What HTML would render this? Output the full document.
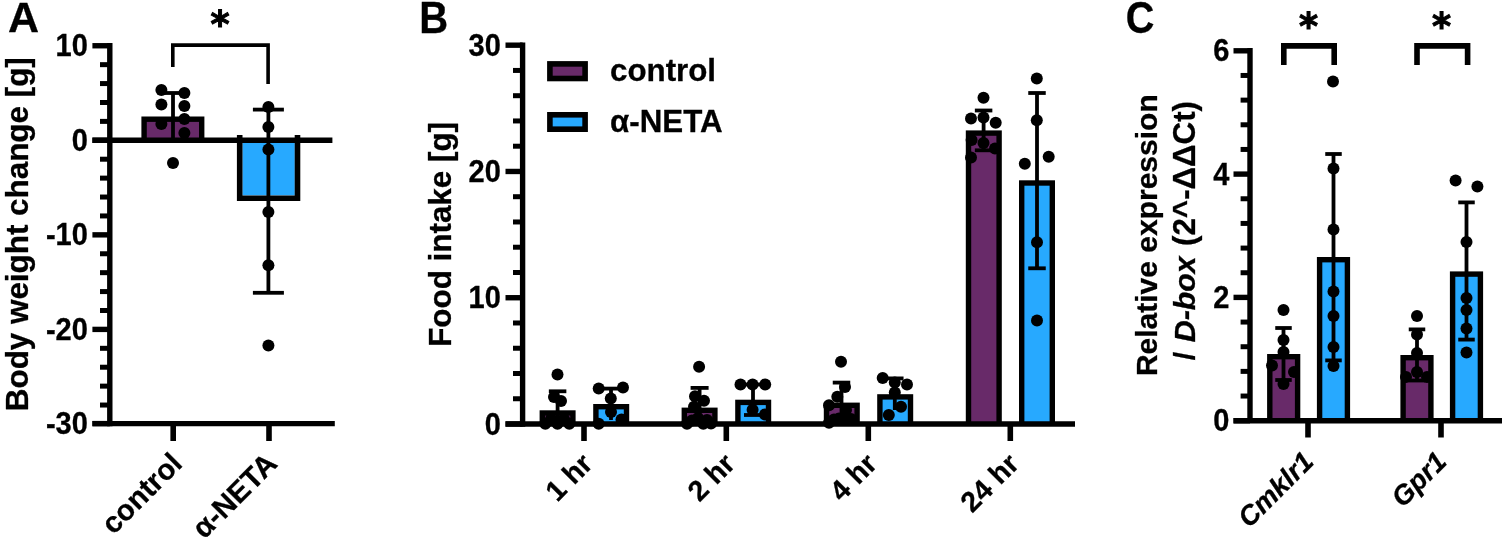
<!DOCTYPE html>
<html lang="en">
<head>
<meta charset="utf-8">
<title>Figure: body weight change, food intake and relative expression</title>
<style>
html,body{margin:0;padding:0;background:#fff;}
body{width:1505px;height:541px;overflow:hidden;}
svg{display:block;}
svg text{font-family:"Liberation Sans","DejaVu Sans",sans-serif;font-weight:700;fill:#000;stroke:#000;stroke-width:0.3px;}
</style>
</head>
<body>
<svg width="1505" height="541" viewBox="0 0 1505 541">
<rect x="0" y="0" width="1505" height="541" fill="#fff"/>
<rect x="141.40" y="116.50" width="63.00" height="23.80" fill="#000"/>
<rect x="146.80" y="121.90" width="52.20" height="18.40" fill="#682A69"/>
<rect x="242.40" y="140.30" width="52.40" height="55.10" fill="#27A9FF"/>
<path d="M239.7 135 V198.3 H297.5 V135" fill="none" stroke="#000" stroke-width="5.6"/>
<line x1="109.80" y1="43.05" x2="109.80" y2="426.30" stroke="#000" stroke-width="5.4"/>
<line x1="92.40" y1="423.60" x2="334.80" y2="423.60" stroke="#000" stroke-width="5.4"/>
<line x1="92.40" y1="140.30" x2="332.40" y2="140.30" stroke="#000" stroke-width="5.4"/>
<line x1="92.40" y1="423.60" x2="109.80" y2="423.60" stroke="#000" stroke-width="5.4"/>
<line x1="100.00" y1="405.04" x2="109.80" y2="405.04" stroke="#000" stroke-width="5.0"/>
<line x1="100.00" y1="386.13" x2="109.80" y2="386.13" stroke="#000" stroke-width="5.0"/>
<line x1="100.00" y1="367.22" x2="109.80" y2="367.22" stroke="#000" stroke-width="5.0"/>
<line x1="100.00" y1="348.31" x2="109.80" y2="348.31" stroke="#000" stroke-width="5.0"/>
<line x1="92.40" y1="329.40" x2="109.80" y2="329.40" stroke="#000" stroke-width="5.4"/>
<line x1="100.00" y1="310.49" x2="109.80" y2="310.49" stroke="#000" stroke-width="5.0"/>
<line x1="100.00" y1="291.58" x2="109.80" y2="291.58" stroke="#000" stroke-width="5.0"/>
<line x1="100.00" y1="272.67" x2="109.80" y2="272.67" stroke="#000" stroke-width="5.0"/>
<line x1="100.00" y1="253.76" x2="109.80" y2="253.76" stroke="#000" stroke-width="5.0"/>
<line x1="92.40" y1="234.85" x2="109.80" y2="234.85" stroke="#000" stroke-width="5.4"/>
<line x1="100.00" y1="215.94" x2="109.80" y2="215.94" stroke="#000" stroke-width="5.0"/>
<line x1="100.00" y1="197.03" x2="109.80" y2="197.03" stroke="#000" stroke-width="5.0"/>
<line x1="100.00" y1="178.12" x2="109.80" y2="178.12" stroke="#000" stroke-width="5.0"/>
<line x1="100.00" y1="159.21" x2="109.80" y2="159.21" stroke="#000" stroke-width="5.0"/>
<line x1="92.40" y1="140.30" x2="109.80" y2="140.30" stroke="#000" stroke-width="5.4"/>
<line x1="100.00" y1="121.39" x2="109.80" y2="121.39" stroke="#000" stroke-width="5.0"/>
<line x1="100.00" y1="102.48" x2="109.80" y2="102.48" stroke="#000" stroke-width="5.0"/>
<line x1="100.00" y1="83.57" x2="109.80" y2="83.57" stroke="#000" stroke-width="5.0"/>
<line x1="100.00" y1="64.66" x2="109.80" y2="64.66" stroke="#000" stroke-width="5.0"/>
<line x1="92.40" y1="45.75" x2="109.80" y2="45.75" stroke="#000" stroke-width="5.4"/>
<text font-size="29.0" text-anchor="end" transform="translate(87.80 56.25) scale(1.0 1.05)">10</text>
<text font-size="29.0" text-anchor="end" transform="translate(87.80 150.80) scale(1.0 1.05)">0</text>
<text font-size="29.0" text-anchor="end" transform="translate(87.80 245.35) scale(1.0 1.05)">-10</text>
<text font-size="29.0" text-anchor="end" transform="translate(87.80 339.90) scale(1.0 1.05)">-20</text>
<text font-size="29.0" text-anchor="end" transform="translate(87.80 434.10) scale(1.0 1.05)">-30</text>
<line x1="173.20" y1="423.60" x2="173.20" y2="441.00" stroke="#000" stroke-width="5.6"/>
<line x1="269.00" y1="423.60" x2="269.00" y2="441.00" stroke="#000" stroke-width="5.6"/>
<line x1="173.00" y1="93.00" x2="173.00" y2="140.00" stroke="#000" stroke-width="3.8"/>
<line x1="161.00" y1="93.00" x2="185.00" y2="93.00" stroke="#000" stroke-width="3.8"/>
<line x1="268.40" y1="109.60" x2="268.40" y2="292.80" stroke="#000" stroke-width="3.8"/>
<line x1="252.90" y1="109.60" x2="283.90" y2="109.60" stroke="#000" stroke-width="3.8"/>
<line x1="252.90" y1="292.80" x2="283.90" y2="292.80" stroke="#000" stroke-width="3.8"/>
<circle cx="161.40" cy="90.00" r="6.0" fill="#000"/>
<circle cx="184.40" cy="93.00" r="6.0" fill="#000"/>
<circle cx="161.40" cy="104.60" r="6.0" fill="#000"/>
<circle cx="184.40" cy="106.00" r="6.0" fill="#000"/>
<circle cx="184.40" cy="119.00" r="6.0" fill="#000"/>
<circle cx="161.40" cy="124.00" r="6.0" fill="#000"/>
<circle cx="184.40" cy="133.00" r="6.0" fill="#000"/>
<circle cx="173.00" cy="163.00" r="6.0" fill="#000"/>
<circle cx="268.40" cy="107.00" r="6.0" fill="#000"/>
<circle cx="268.40" cy="127.00" r="6.0" fill="#000"/>
<circle cx="268.40" cy="149.60" r="6.0" fill="#000"/>
<circle cx="268.40" cy="212.00" r="6.0" fill="#000"/>
<circle cx="268.40" cy="265.20" r="6.0" fill="#000"/>
<circle cx="268.40" cy="345.60" r="6.0" fill="#000"/>
<path d="M172.8 67 V45.1 H268.1 V84" fill="none" stroke="#000" stroke-width="3.6"/>
<text font-size="36.5" text-anchor="middle" transform="translate(220.00 36.95)" style="font-family:'DejaVu Sans','Liberation Sans',sans-serif;stroke:#000;stroke-width:1px">*</text>
<text font-size="43" text-anchor="start" transform="translate(8.00 32.30)">A</text>
<text font-size="31.4" text-anchor="middle" transform="translate(28.00 234.20) rotate(-90)">Body weight change [g]</text>
<text font-size="29.3" text-anchor="end" transform="translate(183.80 465.20) rotate(-45)">control</text>
<text font-size="29.3" text-anchor="end" transform="translate(278.80 465.30) rotate(-45)">α-NETA</text>
<rect x="539.60" y="410.30" width="36.00" height="13.70" fill="#000"/>
<rect x="545.00" y="415.70" width="25.20" height="8.30" fill="#682A69"/>
<rect x="593.20" y="404.00" width="36.00" height="20.00" fill="#000"/>
<rect x="598.60" y="409.40" width="25.20" height="14.60" fill="#27A9FF"/>
<rect x="681.60" y="407.60" width="36.00" height="16.40" fill="#000"/>
<rect x="687.00" y="413.00" width="25.20" height="11.00" fill="#682A69"/>
<rect x="735.20" y="399.70" width="36.00" height="24.30" fill="#000"/>
<rect x="740.60" y="405.10" width="25.20" height="18.90" fill="#27A9FF"/>
<rect x="823.80" y="402.60" width="36.00" height="21.40" fill="#000"/>
<rect x="829.20" y="408.00" width="25.20" height="16.00" fill="#682A69"/>
<rect x="877.20" y="394.20" width="36.00" height="29.80" fill="#000"/>
<rect x="882.60" y="399.60" width="25.20" height="24.40" fill="#27A9FF"/>
<rect x="965.80" y="130.40" width="36.00" height="293.60" fill="#000"/>
<rect x="971.20" y="135.80" width="25.20" height="288.20" fill="#682A69"/>
<rect x="1019.00" y="180.30" width="36.00" height="243.70" fill="#000"/>
<rect x="1024.40" y="185.70" width="25.20" height="238.30" fill="#27A9FF"/>
<line x1="522.60" y1="42.49" x2="522.60" y2="426.70" stroke="#000" stroke-width="5.4"/>
<line x1="505.50" y1="424.00" x2="1075.00" y2="424.00" stroke="#000" stroke-width="5.6"/>
<line x1="505.50" y1="424.00" x2="522.60" y2="424.00" stroke="#000" stroke-width="5.4"/>
<line x1="513.00" y1="398.75" x2="522.60" y2="398.75" stroke="#000" stroke-width="5.0"/>
<line x1="513.00" y1="373.49" x2="522.60" y2="373.49" stroke="#000" stroke-width="5.0"/>
<line x1="513.00" y1="348.24" x2="522.60" y2="348.24" stroke="#000" stroke-width="5.0"/>
<line x1="513.00" y1="322.98" x2="522.60" y2="322.98" stroke="#000" stroke-width="5.0"/>
<line x1="505.50" y1="297.73" x2="522.60" y2="297.73" stroke="#000" stroke-width="5.4"/>
<line x1="513.00" y1="272.48" x2="522.60" y2="272.48" stroke="#000" stroke-width="5.0"/>
<line x1="513.00" y1="247.22" x2="522.60" y2="247.22" stroke="#000" stroke-width="5.0"/>
<line x1="513.00" y1="221.97" x2="522.60" y2="221.97" stroke="#000" stroke-width="5.0"/>
<line x1="513.00" y1="196.71" x2="522.60" y2="196.71" stroke="#000" stroke-width="5.0"/>
<line x1="505.50" y1="171.46" x2="522.60" y2="171.46" stroke="#000" stroke-width="5.4"/>
<line x1="513.00" y1="146.21" x2="522.60" y2="146.21" stroke="#000" stroke-width="5.0"/>
<line x1="513.00" y1="120.95" x2="522.60" y2="120.95" stroke="#000" stroke-width="5.0"/>
<line x1="513.00" y1="95.70" x2="522.60" y2="95.70" stroke="#000" stroke-width="5.0"/>
<line x1="513.00" y1="70.44" x2="522.60" y2="70.44" stroke="#000" stroke-width="5.0"/>
<line x1="505.50" y1="45.19" x2="522.60" y2="45.19" stroke="#000" stroke-width="5.4"/>
<text font-size="29.0" text-anchor="end" transform="translate(500.80 434.50) scale(1.0 1.05)">0</text>
<text font-size="29.0" text-anchor="end" transform="translate(500.80 308.23) scale(1.0 1.05)">10</text>
<text font-size="29.0" text-anchor="end" transform="translate(500.80 181.96) scale(1.0 1.05)">20</text>
<text font-size="29.0" text-anchor="end" transform="translate(500.80 55.69) scale(1.0 1.05)">30</text>
<line x1="584.00" y1="424.00" x2="584.00" y2="441.00" stroke="#000" stroke-width="5.6"/>
<line x1="726.30" y1="424.00" x2="726.30" y2="441.00" stroke="#000" stroke-width="5.6"/>
<line x1="868.30" y1="424.00" x2="868.30" y2="441.00" stroke="#000" stroke-width="5.6"/>
<line x1="1010.30" y1="424.00" x2="1010.30" y2="441.00" stroke="#000" stroke-width="5.6"/>
<line x1="557.60" y1="391.30" x2="557.60" y2="424.00" stroke="#000" stroke-width="3.8"/>
<line x1="548.85" y1="391.30" x2="566.35" y2="391.30" stroke="#000" stroke-width="3.8"/>
<line x1="611.00" y1="388.60" x2="611.00" y2="420.00" stroke="#000" stroke-width="3.8"/>
<line x1="599.00" y1="388.60" x2="623.00" y2="388.60" stroke="#000" stroke-width="3.8"/>
<line x1="699.60" y1="387.90" x2="699.60" y2="424.00" stroke="#000" stroke-width="3.8"/>
<line x1="690.60" y1="387.90" x2="708.60" y2="387.90" stroke="#000" stroke-width="3.8"/>
<line x1="753.00" y1="384.50" x2="753.00" y2="415.00" stroke="#000" stroke-width="3.8"/>
<line x1="744.00" y1="384.50" x2="762.00" y2="384.50" stroke="#000" stroke-width="3.8"/>
<line x1="744.00" y1="415.00" x2="762.00" y2="415.00" stroke="#000" stroke-width="3.8"/>
<line x1="841.50" y1="382.60" x2="841.50" y2="424.00" stroke="#000" stroke-width="3.8"/>
<line x1="832.75" y1="382.60" x2="850.25" y2="382.60" stroke="#000" stroke-width="3.8"/>
<line x1="894.80" y1="378.40" x2="894.80" y2="410.00" stroke="#000" stroke-width="3.8"/>
<line x1="886.05" y1="378.40" x2="903.55" y2="378.40" stroke="#000" stroke-width="3.8"/>
<line x1="983.60" y1="110.50" x2="983.60" y2="150.30" stroke="#000" stroke-width="3.8"/>
<line x1="974.85" y1="110.50" x2="992.35" y2="110.50" stroke="#000" stroke-width="3.8"/>
<line x1="974.85" y1="150.30" x2="992.35" y2="150.30" stroke="#000" stroke-width="3.8"/>
<line x1="1037.00" y1="93.00" x2="1037.00" y2="268.30" stroke="#000" stroke-width="3.8"/>
<line x1="1028.25" y1="93.00" x2="1045.75" y2="93.00" stroke="#000" stroke-width="3.8"/>
<line x1="1028.25" y1="268.30" x2="1045.75" y2="268.30" stroke="#000" stroke-width="3.8"/>
<circle cx="557.50" cy="374.40" r="6.0" fill="#000"/>
<circle cx="554.00" cy="397.00" r="6.0" fill="#000"/>
<circle cx="561.00" cy="401.00" r="6.0" fill="#000"/>
<circle cx="545.30" cy="423.70" r="6.0" fill="#000"/>
<circle cx="557.50" cy="423.70" r="6.0" fill="#000"/>
<circle cx="569.30" cy="423.70" r="6.0" fill="#000"/>
<circle cx="551.00" cy="419.00" r="6.0" fill="#000"/>
<circle cx="564.00" cy="419.00" r="6.0" fill="#000"/>
<circle cx="598.70" cy="388.60" r="6.0" fill="#000"/>
<circle cx="623.00" cy="387.50" r="6.0" fill="#000"/>
<circle cx="610.80" cy="398.60" r="6.0" fill="#000"/>
<circle cx="611.00" cy="412.00" r="6.0" fill="#000"/>
<circle cx="621.50" cy="419.50" r="6.0" fill="#000"/>
<circle cx="598.70" cy="423.70" r="6.0" fill="#000"/>
<circle cx="699.10" cy="366.70" r="6.0" fill="#000"/>
<circle cx="695.00" cy="396.20" r="6.0" fill="#000"/>
<circle cx="704.00" cy="400.80" r="6.0" fill="#000"/>
<circle cx="694.00" cy="406.80" r="6.0" fill="#000"/>
<circle cx="687.00" cy="423.70" r="6.0" fill="#000"/>
<circle cx="703.30" cy="423.70" r="6.0" fill="#000"/>
<circle cx="711.00" cy="423.50" r="6.0" fill="#000"/>
<circle cx="698.00" cy="418.00" r="6.0" fill="#000"/>
<circle cx="692.00" cy="420.50" r="6.0" fill="#000"/>
<circle cx="707.00" cy="420.00" r="6.0" fill="#000"/>
<circle cx="740.50" cy="384.50" r="6.0" fill="#000"/>
<circle cx="752.60" cy="384.50" r="6.0" fill="#000"/>
<circle cx="765.20" cy="384.50" r="6.0" fill="#000"/>
<circle cx="752.60" cy="409.80" r="6.0" fill="#000"/>
<circle cx="765.00" cy="414.50" r="6.0" fill="#000"/>
<circle cx="841.00" cy="361.80" r="6.0" fill="#000"/>
<circle cx="845.00" cy="387.00" r="6.0" fill="#000"/>
<circle cx="837.30" cy="396.70" r="6.0" fill="#000"/>
<circle cx="829.00" cy="405.30" r="6.0" fill="#000"/>
<circle cx="829.00" cy="422.70" r="6.0" fill="#000"/>
<circle cx="839.00" cy="418.50" r="6.0" fill="#000"/>
<circle cx="851.00" cy="419.00" r="6.0" fill="#000"/>
<circle cx="846.00" cy="410.00" r="6.0" fill="#000"/>
<circle cx="834.00" cy="419.50" r="6.0" fill="#000"/>
<circle cx="845.00" cy="419.50" r="6.0" fill="#000"/>
<circle cx="882.70" cy="378.00" r="6.0" fill="#000"/>
<circle cx="907.00" cy="384.50" r="6.0" fill="#000"/>
<circle cx="894.80" cy="382.60" r="6.0" fill="#000"/>
<circle cx="894.80" cy="392.40" r="6.0" fill="#000"/>
<circle cx="901.00" cy="406.80" r="6.0" fill="#000"/>
<circle cx="888.80" cy="415.00" r="6.0" fill="#000"/>
<circle cx="983.50" cy="97.70" r="6.0" fill="#000"/>
<circle cx="971.00" cy="118.50" r="6.0" fill="#000"/>
<circle cx="983.50" cy="117.40" r="6.0" fill="#000"/>
<circle cx="995.70" cy="122.70" r="6.0" fill="#000"/>
<circle cx="971.60" cy="140.00" r="6.0" fill="#000"/>
<circle cx="983.50" cy="143.00" r="6.0" fill="#000"/>
<circle cx="995.00" cy="148.50" r="6.0" fill="#000"/>
<circle cx="971.00" cy="157.60" r="6.0" fill="#000"/>
<circle cx="1036.80" cy="78.60" r="6.0" fill="#000"/>
<circle cx="1036.80" cy="120.20" r="6.0" fill="#000"/>
<circle cx="1048.70" cy="156.80" r="6.0" fill="#000"/>
<circle cx="1024.80" cy="163.70" r="6.0" fill="#000"/>
<circle cx="1037.00" cy="242.20" r="6.0" fill="#000"/>
<circle cx="1037.00" cy="320.50" r="6.0" fill="#000"/>
<rect x="547.10" y="61.10" width="40.80" height="20.20" fill="#000"/>
<rect x="552.70" y="66.70" width="29.60" height="9.00" fill="#682A69"/>
<rect x="547.10" y="112.00" width="40.80" height="20.00" fill="#000"/>
<rect x="552.70" y="117.60" width="29.60" height="8.80" fill="#27A9FF"/>
<text font-size="31.3" text-anchor="start" transform="translate(610.00 81.10)">control</text>
<text font-size="31.3" text-anchor="start" transform="translate(610.00 131.90)">α-NETA</text>
<text font-size="43" text-anchor="start" transform="translate(419.30 32.50) scale(0.93 1.02)">B</text>
<text font-size="31.4" text-anchor="middle" transform="translate(451.00 234.40) rotate(-90)">Food intake [g]</text>
<text font-size="28.5" text-anchor="end" transform="translate(594.20 465.70) rotate(-45)">1 hr</text>
<text font-size="28.5" text-anchor="end" transform="translate(736.50 465.70) rotate(-45)">2 hr</text>
<text font-size="28.5" text-anchor="end" transform="translate(878.50 465.70) rotate(-45)">4 hr</text>
<text font-size="28.5" text-anchor="end" transform="translate(1020.50 465.70) rotate(-45)">24 hr</text>
<rect x="1267.10" y="354.00" width="33.20" height="66.70" fill="#000"/>
<rect x="1272.50" y="359.40" width="22.40" height="61.30" fill="#682A69"/>
<rect x="1316.90" y="257.00" width="33.20" height="163.70" fill="#000"/>
<rect x="1322.30" y="262.40" width="22.40" height="158.30" fill="#27A9FF"/>
<rect x="1400.40" y="355.00" width="33.20" height="65.70" fill="#000"/>
<rect x="1405.80" y="360.40" width="22.40" height="60.30" fill="#682A69"/>
<rect x="1449.90" y="271.40" width="33.20" height="149.30" fill="#000"/>
<rect x="1455.30" y="276.80" width="22.40" height="143.90" fill="#27A9FF"/>
<line x1="1250.00" y1="48.10" x2="1250.00" y2="422.70" stroke="#000" stroke-width="5.4"/>
<line x1="1233.50" y1="420.70" x2="1502.00" y2="420.70" stroke="#000" stroke-width="5.6"/>
<line x1="1233.50" y1="420.70" x2="1250.00" y2="420.70" stroke="#000" stroke-width="5.4"/>
<line x1="1240.60" y1="396.04" x2="1250.00" y2="396.04" stroke="#000" stroke-width="5.0"/>
<line x1="1240.60" y1="371.38" x2="1250.00" y2="371.38" stroke="#000" stroke-width="5.0"/>
<line x1="1240.60" y1="346.72" x2="1250.00" y2="346.72" stroke="#000" stroke-width="5.0"/>
<line x1="1240.60" y1="322.06" x2="1250.00" y2="322.06" stroke="#000" stroke-width="5.0"/>
<line x1="1233.50" y1="297.40" x2="1250.00" y2="297.40" stroke="#000" stroke-width="5.4"/>
<line x1="1240.60" y1="272.74" x2="1250.00" y2="272.74" stroke="#000" stroke-width="5.0"/>
<line x1="1240.60" y1="248.08" x2="1250.00" y2="248.08" stroke="#000" stroke-width="5.0"/>
<line x1="1240.60" y1="223.42" x2="1250.00" y2="223.42" stroke="#000" stroke-width="5.0"/>
<line x1="1240.60" y1="198.76" x2="1250.00" y2="198.76" stroke="#000" stroke-width="5.0"/>
<line x1="1233.50" y1="174.10" x2="1250.00" y2="174.10" stroke="#000" stroke-width="5.4"/>
<line x1="1240.60" y1="149.44" x2="1250.00" y2="149.44" stroke="#000" stroke-width="5.0"/>
<line x1="1240.60" y1="124.78" x2="1250.00" y2="124.78" stroke="#000" stroke-width="5.0"/>
<line x1="1240.60" y1="100.12" x2="1250.00" y2="100.12" stroke="#000" stroke-width="5.0"/>
<line x1="1240.60" y1="75.46" x2="1250.00" y2="75.46" stroke="#000" stroke-width="5.0"/>
<line x1="1233.50" y1="50.80" x2="1250.00" y2="50.80" stroke="#000" stroke-width="5.4"/>
<text font-size="29.0" text-anchor="end" transform="translate(1229.40 431.20) scale(1.0 1.05)">0</text>
<text font-size="29.0" text-anchor="end" transform="translate(1229.40 307.90) scale(1.0 1.05)">2</text>
<text font-size="29.0" text-anchor="end" transform="translate(1229.40 184.60) scale(1.0 1.05)">4</text>
<text font-size="29.0" text-anchor="end" transform="translate(1229.40 61.30) scale(1.0 1.05)">6</text>
<line x1="1308.00" y1="420.70" x2="1308.00" y2="437.50" stroke="#000" stroke-width="5.6"/>
<line x1="1441.00" y1="420.70" x2="1441.00" y2="437.50" stroke="#000" stroke-width="5.6"/>
<line x1="1283.50" y1="328.00" x2="1283.50" y2="380.00" stroke="#000" stroke-width="3.8"/>
<line x1="1275.25" y1="328.00" x2="1291.75" y2="328.00" stroke="#000" stroke-width="3.8"/>
<line x1="1275.25" y1="380.00" x2="1291.75" y2="380.00" stroke="#000" stroke-width="3.8"/>
<line x1="1333.50" y1="154.00" x2="1333.50" y2="360.40" stroke="#000" stroke-width="3.8"/>
<line x1="1325.25" y1="154.00" x2="1341.75" y2="154.00" stroke="#000" stroke-width="3.8"/>
<line x1="1325.25" y1="360.40" x2="1341.75" y2="360.40" stroke="#000" stroke-width="3.8"/>
<line x1="1417.00" y1="329.40" x2="1417.00" y2="380.50" stroke="#000" stroke-width="3.8"/>
<line x1="1408.75" y1="329.40" x2="1425.25" y2="329.40" stroke="#000" stroke-width="3.8"/>
<line x1="1408.75" y1="380.50" x2="1425.25" y2="380.50" stroke="#000" stroke-width="3.8"/>
<line x1="1466.50" y1="202.40" x2="1466.50" y2="339.60" stroke="#000" stroke-width="3.8"/>
<line x1="1458.25" y1="202.40" x2="1474.75" y2="202.40" stroke="#000" stroke-width="3.8"/>
<line x1="1458.25" y1="339.60" x2="1474.75" y2="339.60" stroke="#000" stroke-width="3.8"/>
<circle cx="1283.50" cy="310.00" r="6.0" fill="#000"/>
<circle cx="1283.50" cy="340.00" r="6.0" fill="#000"/>
<circle cx="1283.50" cy="352.00" r="6.0" fill="#000"/>
<circle cx="1272.00" cy="365.60" r="6.0" fill="#000"/>
<circle cx="1294.00" cy="372.00" r="6.0" fill="#000"/>
<circle cx="1283.50" cy="384.00" r="6.0" fill="#000"/>
<circle cx="1333.00" cy="81.60" r="6.0" fill="#000"/>
<circle cx="1333.50" cy="168.40" r="6.0" fill="#000"/>
<circle cx="1333.50" cy="229.40" r="6.0" fill="#000"/>
<circle cx="1333.50" cy="291.60" r="6.0" fill="#000"/>
<circle cx="1333.50" cy="316.00" r="6.0" fill="#000"/>
<circle cx="1333.50" cy="347.00" r="6.0" fill="#000"/>
<circle cx="1333.50" cy="366.00" r="6.0" fill="#000"/>
<circle cx="1417.00" cy="316.00" r="6.0" fill="#000"/>
<circle cx="1417.00" cy="334.40" r="6.0" fill="#000"/>
<circle cx="1417.00" cy="353.00" r="6.0" fill="#000"/>
<circle cx="1417.00" cy="372.00" r="6.0" fill="#000"/>
<circle cx="1406.00" cy="377.00" r="6.0" fill="#000"/>
<circle cx="1427.00" cy="377.00" r="6.0" fill="#000"/>
<circle cx="1455.60" cy="180.40" r="6.0" fill="#000"/>
<circle cx="1477.40" cy="186.40" r="6.0" fill="#000"/>
<circle cx="1466.50" cy="242.00" r="6.0" fill="#000"/>
<circle cx="1466.50" cy="298.00" r="6.0" fill="#000"/>
<circle cx="1466.50" cy="310.00" r="6.0" fill="#000"/>
<circle cx="1466.50" cy="328.40" r="6.0" fill="#000"/>
<circle cx="1466.50" cy="352.40" r="6.0" fill="#000"/>
<path d="M1283.8 65 V45.9 H1334.2 V65" fill="none" stroke="#000" stroke-width="5.6" stroke-linecap="butt"/>
<path d="M1417.0 65 V45.9 H1467.6 V65" fill="none" stroke="#000" stroke-width="5.6"/>
<text font-size="36.5" text-anchor="middle" transform="translate(1308.50 38.90)" style="font-family:'DejaVu Sans','Liberation Sans',sans-serif;stroke:#000;stroke-width:1px">*</text>
<text font-size="36.5" text-anchor="middle" transform="translate(1441.60 38.90)" style="font-family:'DejaVu Sans','Liberation Sans',sans-serif;stroke:#000;stroke-width:1px">*</text>
<text font-size="43" text-anchor="start" transform="translate(1125.80 32.90) scale(0.92 1.04)">C</text>
<text font-size="30" text-anchor="middle" transform="translate(1157.00 235.20) rotate(-90)">Relative expression</text>
<text font-size="30.3" text-anchor="start" transform="translate(1194.7 360.2) rotate(-90)">/ <tspan font-style="italic" dx="1.2">D-box</tspan></text>
<text font-size="31.3" text-anchor="end" transform="translate(1194.7 101.0) rotate(-90)">(2^-ΔΔCt)</text>
<text font-size="27.4" text-anchor="end" transform="translate(1315.00 463.20) rotate(-45)" style="font-style:italic">Cmklr1</text>
<text font-size="27.4" text-anchor="end" transform="translate(1448.00 463.20) rotate(-45)" style="font-style:italic">Gpr1</text>
</svg>
</body>
</html>
